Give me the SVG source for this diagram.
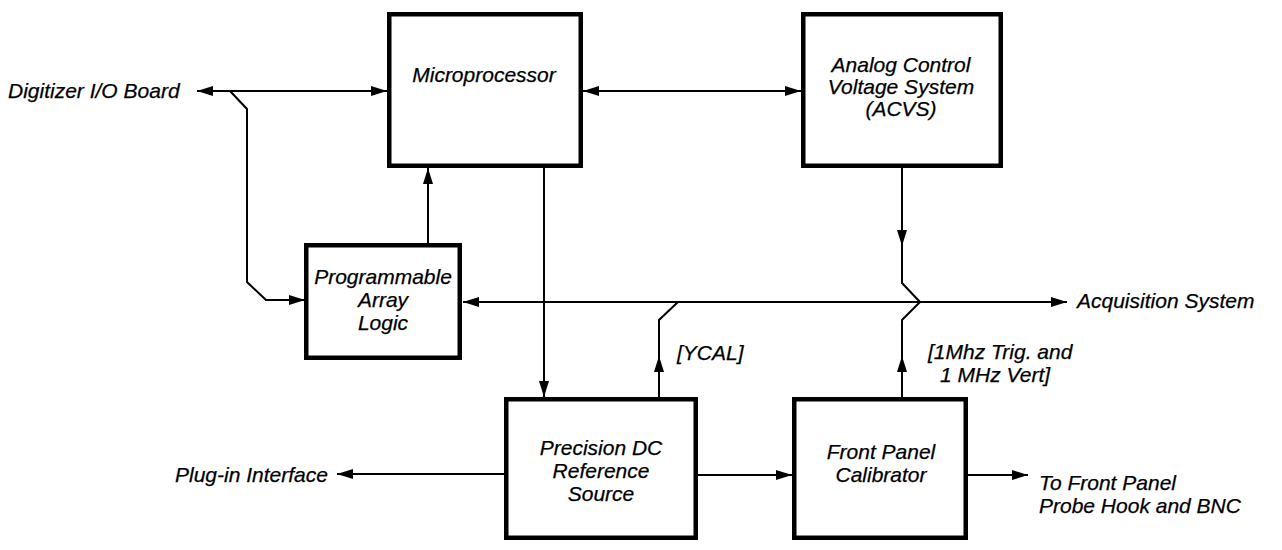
<svg xmlns="http://www.w3.org/2000/svg" width="1282" height="550" viewBox="0 0 1282 550">
<style>
.box{fill:#fff;stroke:#000;stroke-width:4.5}
.ln{fill:none;stroke:#000;stroke-width:2}
text{font-family:"Liberation Sans",Arial,sans-serif;font-style:italic;font-size:21px;fill:#000;stroke:#000;stroke-width:0.25}
.c{text-anchor:middle}
</style>
<defs>
<marker id="ah" markerUnits="userSpaceOnUse" markerWidth="18" markerHeight="12" refX="16" refY="5" orient="auto-start-reverse">
<path d="M0,0 L16,5 L0,10 Z" fill="#000"/>
</marker>
</defs>
<rect width="1282" height="550" fill="#fff"/>
<g id="connectors">
<path class="ln" d="M197,91 H387" marker-start="url(#ah)" marker-end="url(#ah)"/>
<path class="ln" d="M230,91 L247,109 V282 L266,300 H305" marker-end="url(#ah)"/>
<path class="ln" d="M583,91 H801" marker-start="url(#ah)" marker-end="url(#ah)"/>
<path class="ln" d="M428,243 V168" marker-end="url(#ah)"/>
<path class="ln" d="M544,168 V397" marker-end="url(#ah)"/>
<path class="ln" d="M463,302 H1067" marker-start="url(#ah)" marker-end="url(#ah)"/>
<path class="ln" d="M902,168 V246" marker-end="url(#ah)"/>
<path class="ln" d="M902,246 V283 L920,302"/>
<path class="ln" d="M902,397 V356" marker-end="url(#ah)"/>
<path class="ln" d="M902,356 V320 L920,302"/>
<path class="ln" d="M659,397 V356" marker-end="url(#ah)"/>
<path class="ln" d="M659,356 V320 L678,302"/>
<path class="ln" d="M504,474 H337" marker-end="url(#ah)"/>
<path class="ln" d="M698,475 H792" marker-end="url(#ah)"/>
<path class="ln" d="M968,475 H1028" marker-end="url(#ah)"/>
</g>
<g id="microprocessor">
<rect class="box" x="389.25" y="14.25" width="191.5" height="151.5"/>
<text class="c" x="484" y="82">Microprocessor</text>
</g>
<g id="acvs">
<rect class="box" x="803.25" y="14.25" width="197.5" height="151.5"/>
<text class="c" x="901" y="72">Analog Control</text>
<text class="c" x="901" y="94">Voltage System</text>
<text class="c" x="901" y="116">(ACVS)</text>
</g>
<g id="pal">
<rect class="box" x="306.25" y="245.25" width="153.5" height="112.5"/>
<text class="c" x="383" y="284">Programmable</text>
<text class="c" x="383" y="307">Array</text>
<text class="c" x="383" y="330">Logic</text>
</g>
<g id="precision">
<rect class="box" x="506.25" y="399.25" width="189.5" height="138.5"/>
<text class="c" x="601" y="455">Precision DC</text>
<text class="c" x="601" y="478">Reference</text>
<text class="c" x="601" y="501">Source</text>
</g>
<g id="fpc">
<rect class="box" x="794.25" y="399.25" width="171.5" height="138.5"/>
<text class="c" x="881" y="459">Front Panel</text>
<text class="c" x="881" y="482">Calibrator</text>
</g>
<g id="labels">
<text x="8" y="98">Digitizer I/O Board</text>
<text x="1077" y="308">Acquisition System</text>
<text x="175" y="482">Plug-in Interface</text>
<text x="1039" y="490">To Front Panel</text>
<text x="1039" y="513">Probe Hook and BNC</text>
<text x="677" y="360">[YCAL]</text>
<text x="928" y="359">[1Mhz Trig. and</text>
<text x="940" y="382">1 MHz Vert]</text>
</g>
</svg>
